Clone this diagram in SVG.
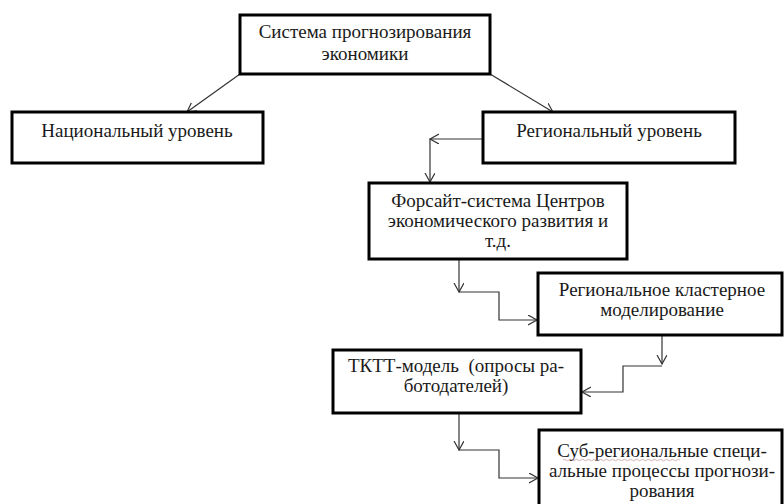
<svg xmlns="http://www.w3.org/2000/svg" width="784" height="504" viewBox="0 0 784 504">
<defs>
<marker id="ah" markerWidth="12" markerHeight="12" refX="9" refY="5" orient="auto" markerUnits="userSpaceOnUse">
<path d="M0,0 L9,5 L0,10" fill="none" stroke="#333" stroke-width="1.2"/>
</marker>
</defs>
<rect width="784" height="504" fill="#fff"/>
<g id="connectors" fill="none" stroke="#333" stroke-width="1.2">
<path d="M240,74 L187,112" marker-end="url(#ah)"/>
<path d="M490,74 L553,112" marker-end="url(#ah)"/>
<path d="M483,139 L430,139" marker-end="url(#ah)"/>
<path d="M430,139 L430,182" marker-end="url(#ah)"/>
<path d="M459,260 L459,292" marker-end="url(#ah)"/>
<path d="M459,292 L499,292 L499,320 L537,320" marker-end="url(#ah)"/>
<path d="M662,335 L662,364" marker-end="url(#ah)"/>
<path d="M662,366 L623,366 L623,392 L582,392" marker-end="url(#ah)"/>
<path d="M459,413 L459,450" marker-end="url(#ah)"/>
<path d="M459,450 L499,450 L499,478 L538,478" marker-end="url(#ah)"/>
</g>
<g id="node-system">
<rect x="240" y="15" width="250" height="59" fill="#fff" stroke="#000" stroke-width="3"/>
<text style="font-family:'Liberation Serif',serif;font-size:19px" text-anchor="middle" fill="#1a1a1a" x="365" y="38">Система прогнозирования</text>
<text style="font-family:'Liberation Serif',serif;font-size:19px" text-anchor="middle" fill="#1a1a1a" x="365" y="60">экономики</text>
</g>
<g id="node-national">
<rect x="12" y="112" width="251" height="51" fill="#fff" stroke="#000" stroke-width="3"/>
<text style="font-family:'Liberation Serif',serif;font-size:19px" text-anchor="middle" fill="#1a1a1a" x="137" y="137">Национальный уровень</text>
</g>
<g id="node-regional">
<rect x="483" y="112" width="252" height="51" fill="#fff" stroke="#000" stroke-width="3"/>
<text style="font-family:'Liberation Serif',serif;font-size:19px" text-anchor="middle" fill="#1a1a1a" x="609" y="137">Региональный уровень</text>
</g>
<g id="node-foresight">
<rect x="369" y="183" width="258" height="76" fill="#fff" stroke="#000" stroke-width="3"/>
<text style="font-family:'Liberation Serif',serif;font-size:19px" text-anchor="middle" fill="#1a1a1a" x="498" y="207">Форсайт-система Центров</text>
<text style="font-family:'Liberation Serif',serif;font-size:19px" text-anchor="middle" fill="#1a1a1a" x="498" y="227">экономического развития и</text>
<text style="font-family:'Liberation Serif',serif;font-size:19px" text-anchor="middle" fill="#1a1a1a" x="498" y="247">т.д.</text>
</g>
<g id="node-cluster">
<rect x="538" y="273" width="244" height="62" fill="#fff" stroke="#000" stroke-width="3"/>
<text style="font-family:'Liberation Serif',serif;font-size:19px" text-anchor="middle" fill="#1a1a1a" x="662" y="296">Региональное кластерное</text>
<text style="font-family:'Liberation Serif',serif;font-size:19px" text-anchor="middle" fill="#1a1a1a" x="662" y="316">моделирование</text>
</g>
<g id="node-tktt">
<rect x="333" y="350" width="248" height="63" fill="#fff" stroke="#000" stroke-width="3"/>
<text style="font-family:'Liberation Serif',serif;font-size:19px" text-anchor="middle" fill="#1a1a1a" x="456" y="372" xml:space="preserve">ТКТТ-модель  (опросы ра-</text>
<text style="font-family:'Liberation Serif',serif;font-size:19px" text-anchor="middle" fill="#1a1a1a" x="456" y="392">ботодателей)</text>
</g>
<g id="node-sub">
<rect x="539" y="430" width="243" height="76" fill="#fff" stroke="#000" stroke-width="3"/>
<text style="font-family:'Liberation Serif',serif;font-size:19px" text-anchor="middle" fill="#1a1a1a" x="662" y="457">Суб-региональные специ-</text>
<text style="font-family:'Liberation Serif',serif;font-size:19px" text-anchor="middle" fill="#1a1a1a" x="662" y="477">альные процессы прогнози-</text>
<text style="font-family:'Liberation Serif',serif;font-size:19px" text-anchor="middle" fill="#1a1a1a" x="662" y="497">рования</text>
<path d="M563,460 q1.5,-1.5 3,0 t3,0 t3,0 t3,0 t3,0 t3,0 t3,0 t3,0 t3,0 t3,0 t3,0 t3,0 t3,0 t3,0 t3,0 t3,0 t3,0 t3,0 t3,0 t3,0 t3,0 t3,0 t3,0 t3,0 t3,0 t3,0 t3,0 t3,0 t3,0 t3,0 t3,0 t3,0 t3,0 t3,0 t3,0 t3,0 t3,0 t3,0 t3,0" fill="none" stroke="#c9a0a0" stroke-width="0.8"/>
</g>
</svg>
